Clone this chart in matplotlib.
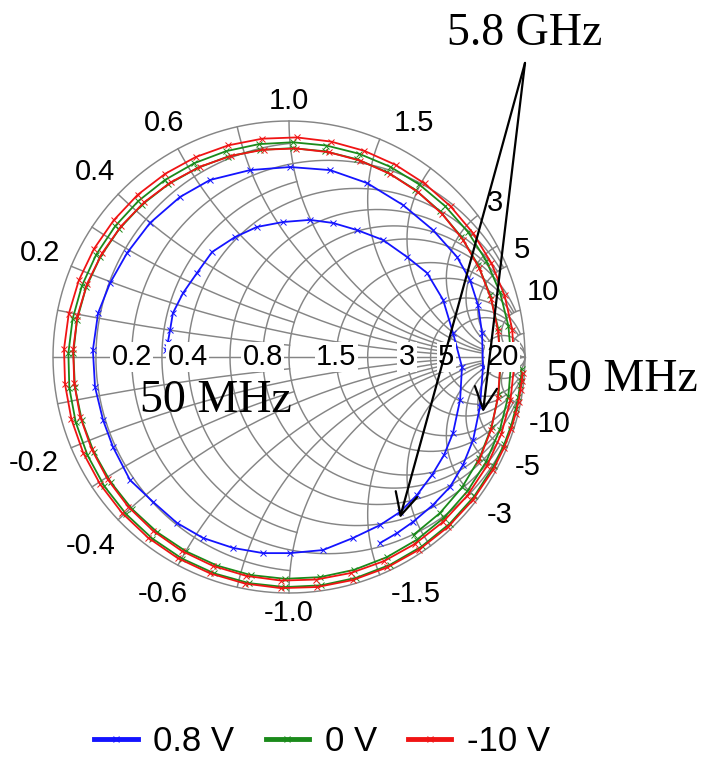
import numpy as np
import matplotlib.pyplot as plt

plt.rcParams['font.family'] = ['Liberation Sans', 'DejaVu Sans']

# Smith chart grid: circle value and the limit where its arc stops
r_grid = [0.1, 0.2, 0.3, 0.4, 0.6, 0.8, 1.0, 1.5, 2.0, 3.0, 4.0, 5.0, 10.0, 20.0]
r_stop = [1.0, 5.0, 1.0, 5.0, 5.0, 5.0, 10.0, 10.0, 10.0, 20.0, 10.0, 20.0, np.inf, np.inf]
x_grid = [0.1, 0.2, 0.3, 0.4, 0.6, 0.8, 1.0, 1.5, 2.0, 3.0, 4.0, 5.0, 10.0, 20.0]
x_stop = [1.0, 5.0, 1.0, 5.0, 5.0, 5.0, 10.0, 10.0, 10.0, 20.0, 10.0, 20.0, np.inf, np.inf]

r_labels = [0.2, 0.4, 0.8, 1.5, 3, 5, 20]
x_labels = [0.2, 0.4, 0.6, 1.0, 1.5, 3, 5, 10]

# S11 at 0.8 V, real / imag, 50 MHz -> 5.8 GHz
s11_08v = [(-0.521, 0.030), (-0.517, 0.042), (-0.513, 0.064), (-0.504, 0.114), (-0.492, 0.186),
           (-0.449, 0.271), (-0.390, 0.356), (-0.326, 0.445), (-0.229, 0.508), (-0.136, 0.551),
           (-0.025, 0.572), (0.089, 0.581), (0.186, 0.568), (0.288, 0.538), (0.398, 0.496),
           (0.500, 0.424), (0.585, 0.356), (0.653, 0.242), (0.695, 0.102), (0.733, -0.042),
           (0.725, -0.182), (0.695, -0.322), (0.657, -0.415), (0.606, -0.500), (0.542, -0.585),
           (0.470, -0.657), (0.386, -0.712), (0.271, -0.767), (0.144, -0.818), (0.004, -0.831),
           (-0.110, -0.831), (-0.237, -0.809), (-0.364, -0.767), (-0.475, -0.703), (-0.576, -0.614),
           (-0.674, -0.521), (-0.746, -0.381), (-0.788, -0.267), (-0.822, -0.127), (-0.831, 0.030),
           (-0.809, 0.186), (-0.758, 0.314), (-0.686, 0.441), (-0.589, 0.568), (-0.462, 0.678),
           (-0.335, 0.750), (-0.165, 0.792), (0.004, 0.805), (0.174, 0.792), (0.331, 0.737),
           (0.483, 0.644), (0.610, 0.538), (0.712, 0.424), (0.767, 0.326), (0.801, 0.220),
           (0.818, 0.102), (0.822, -0.042), (0.809, -0.212), (0.780, -0.352), (0.737, -0.458),
           (0.682, -0.551), (0.610, -0.627), (0.525, -0.699), (0.458, -0.746), (0.386, -0.788)]

# S11 at 0 V, (unwrapped phase in deg, magnitude)
s11_0v = [(-3, .987), (-5, .987), (-7, .986), (-10, .986), (-13, .985), (-17, .985), (-22, .984),
          (-28, .983), (-37, .982), (-46, .981), (-55, .980), (-64, .979), (-73, .978), (-82, .977),
          (-91, .975), (-100, .973), (-109, .970), (-118, .967), (-127, .963), (-136, .959),
          (-145, .955), (-154, .950), (-163, .945), (-172, .940), (-181, .935), (-190, .931),
          (-199, .928), (-208, .925), (-217, .922), (-226, .919), (-235, .916), (-244, .914),
          (-253, .912), (-262, .911), (-271, .910), (-280, .910), (-289, .911), (-298, .913),
          (-307, .916), (-316, .920), (-325, .925), (-334, .930), (-343, .935), (-352, .939),
          (-361, .942), (-370, .944), (-379, .945), (-388, .946), (-397, .946), (-406, .946),
          (-415, .945), (-424, .944), (-433, .943), (-442, .942), (-451, .940), (-460, .938),
          (-469, .935), (-478, .932), (-487, .929), (-496, .926), (-505, .923), (-514, .920),
          (-523, .918), (-532, .916), (-541, .914), (-550, .912), (-559, .909), (-568, .905),
          (-577, .901), (-586, .897), (-595, .893), (-604, .890), (-613, .888), (-622, .886),
          (-631, .885), (-640, .885), (-649, .886), (-658, .887), (-667, .888), (-676, .889),
          (-685, .890), (-694, .891), (-703, .892), (-712, .894), (-721, .897), (-730, .902),
          (-739, .908), (-748, .914), (-757, .918), (-766, .920), (-775, .920)]

# S11 at -10 V, (unwrapped phase in deg, magnitude)
s11_m10v = [(-4, .992), (-6, .992), (-8, .991), (-11, .991), (-14, .990), (-18, .990), (-23, .989),
            (-29, .988), (-38, .987), (-47, .986), (-56, .985), (-65, .984), (-74, .983), (-83, .982),
            (-92, .980), (-101, .978), (-110, .976), (-119, .974), (-128, .971), (-137, .968),
            (-146, .965), (-155, .962), (-164, .959), (-173, .956), (-182, .954), (-191, .951),
            (-200, .948), (-209, .945), (-218, .942), (-227, .940), (-236, .937), (-245, .935),
            (-254, .933), (-263, .932), (-272, .931), (-281, .930), (-290, .930), (-299, .931),
            (-308, .933), (-317, .936), (-326, .940), (-335, .945), (-344, .950), (-353, .953),
            (-362, .955), (-371, .956), (-380, .957), (-389, .957), (-398, .957), (-407, .956),
            (-416, .955), (-425, .954), (-434, .952), (-443, .950), (-452, .948), (-461, .945),
            (-470, .942), (-479, .939), (-488, .935), (-497, .931), (-506, .927), (-515, .923),
            (-524, .920), (-533, .917), (-542, .915), (-551, .913), (-560, .910), (-569, .906),
            (-578, .902), (-587, .898), (-596, .894), (-605, .890), (-614, .887), (-623, .885),
            (-632, .884), (-641, .884), (-650, .885), (-659, .886), (-668, .887), (-677, .888),
            (-686, .889), (-695, .890), (-704, .891), (-713, .893), (-722, .896), (-731, .902),
            (-740, .910), (-749, .918)]

series_names = ['0.8 V', '0 V', '-10 V']
series_colors = ['#1414ff', '#1a8a1a', '#f01414']

# frequency callouts: reflection coefficient where the arrows end
tip_58ghz = [(0.470, -0.682), (0.822, -0.233)]


def gamma(z):
    return (z - 1) / (z + 1)


def polar_to_gamma(pts):
    ph, mag = np.array(pts).T
    return mag * np.exp(1j * np.deg2rad(ph))


fig = plt.figure(figsize=(7.02, 7.60), dpi=100)
ax = fig.add_axes([0, 0, 1, 1])
ax.set_xlim(-1.2246, 1.75)
ax.set_ylim(-1.7076, 1.5127)
ax.axis('off')

gcol = '#858585'
glw = 1.05

# outer circle and real axis
t = np.linspace(0, 2 * np.pi, 721)
ax.plot(np.cos(t), np.sin(t), color=gcol, lw=glw, zorder=1)
ax.plot([-1, 1], [0, 0], color=gcol, lw=glw, zorder=1)

# resistance circles
for r, lim in zip(r_grid, r_stop):
    a = np.arctan(lim) if np.isfinite(lim) else np.pi / 2 - 1e-4
    tt = np.linspace(-a, a, 500)
    g = gamma(r + 1j * np.tan(tt))
    ax.plot(g.real, g.imag, color=gcol, lw=glw, zorder=1)

# reactance arcs
for x, lim in zip(x_grid, x_stop):
    a = np.arctan(lim) if np.isfinite(lim) else np.pi / 2 - 1e-4
    tt = np.linspace(0, a, 500)
    for sgn in (1, -1):
        g = gamma(np.tan(tt) + 1j * sgn * x)
        ax.plot(g.real, g.imag, color=gcol, lw=glw, zorder=1)


def fmt(v):
    return '%.1f' % v if abs(v) < 2 else '%d' % v


lab_fs = 21
# resistance labels on the real axis
for r in r_labels:
    g = gamma(r)
    ax.text(g, 0, fmt(r), fontsize=lab_fs, ha='center', va='center', zorder=3,
            bbox=dict(boxstyle='square,pad=0.05', fc='white', ec='none'))

# reactance labels around the rim (small angular nudges to keep them clear)
nudge = {1.5: -5.5, 5: 2.0, 10: 3.0}
px = 1 / 236
for x in x_labels:
    for v in (x, -x):
        s = fmt(v)
        ang = np.angle(gamma(1j * v)) + np.sign(v) * np.deg2rad(nudge.get(x, 0.0))
        w = 15 * len(s) * px
        h = 21 * px
        rad = 1 + 9 * px + abs(np.cos(ang)) * w / 2 + abs(np.sin(ang)) * h / 2
        ax.text(rad * np.cos(ang), rad * np.sin(ang), s, fontsize=lab_fs,
                ha='center', va='center', zorder=3)

# measured traces
traces = [np.array([complex(a, b) for a, b in s11_08v]),
          polar_to_gamma(s11_0v),
          polar_to_gamma(s11_m10v)]
handles = []
for g, name, c in zip(traces, series_names, series_colors):
    ln, = ax.plot(g.real, g.imag, color=c, lw=1.3, marker='x', ms=5, mew=0.7,
                  label=name, zorder=2)
    handles.append(ln)

# callouts
serif = ['Liberation Serif', 'DejaVu Serif']
arrow_from = (1.0, 1.246)
for tip in tip_58ghz:
    ax.annotate('', xy=tip, xytext=arrow_from,
                arrowprops=dict(arrowstyle='->,head_length=0.8,head_width=0.4',
                                color='black', lw=1.6, shrinkA=0, shrinkB=0,
                                mutation_scale=20), zorder=4)
ax.text(1.0, 1.322, '5.8 GHz', family=serif, fontsize=33, ha='center', va='baseline')
ax.text(-0.309, -0.233, '50 MHz', family=serif, fontsize=33, ha='center', va='baseline', zorder=4)
ax.text(1.411, -0.144, '50 MHz', family=serif, fontsize=33, ha='center', va='baseline')

leg = fig.legend(handles=handles, loc='center', bbox_to_anchor=(0.459, 0.024), ncol=3,
                 frameon=False, fontsize=25, handlelength=1.25, handletextpad=0.45,
                 columnspacing=0.9)
for h in leg.legend_handles:
    h.set_linewidth(3.5)

fig.savefig('out.png', dpi=100, facecolor='white')
